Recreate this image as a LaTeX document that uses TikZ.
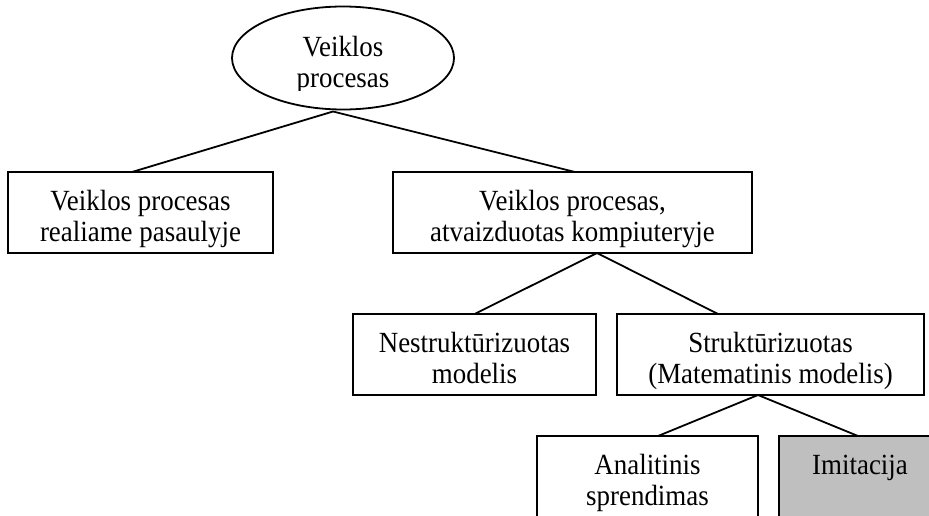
\documentclass[tikz,border=0pt]{standalone}
\usepackage{fontspec}
\setmainfont[FakeStretch=0.92]{Liberation Serif}
\usetikzlibrary{shapes.geometric}
% one drawing unit = one pixel of the 929 x 515 layout grid
\def\pxs{0.4444pt}
% two centred lines, set a little below the middle of their frame
\newcommand\twolines[2]{\raisebox{-3.2pt}[\height][\depth]{%
  \begin{tabular}{@{}c@{}}#1\\#2\end{tabular}}}
\begin{document}
\begin{tikzpicture}[x=0.4444pt, y=-0.4444pt, line width=0.8pt,
  txt/.style={font=\fontsize{13pt}{13.8pt}\selectfont, align=center},
  box/.style={txt, draw, rectangle, inner sep=0pt, outer sep=0pt},
  boxsize/.style 2 args={minimum width=#1*\pxs, minimum height=#2*\pxs},
  grayfill/.style={fill=gray!50!white}]
\useasboundingbox (0,0) rectangle (929,515);
\clip (0,0) rectangle (929,515);

% root ellipse; its label is clipped like a text frame
\node[draw, ellipse, inner sep=0pt, outer sep=0pt,
      minimum width=222*\pxs, minimum height=103*\pxs] (root) at (343,58) {};
\begin{scope}
  \clip (232,0) rectangle (454,90);
  \node[txt, inner sep=0pt] (rootlabel) at (343,59) {\twolines{Veiklos}{procesas}};
\end{scope}

% second level
\node[box, boxsize={265}{81}] (real) at (140.5,212.5)
  {\twolines{Veiklos procesas}{realiame pasaulyje}};
\node[box, boxsize={359}{81}] (comp) at (572.5,212.5)
  {\twolines{Veiklos procesas,}{atvaizduotas kompiuteryje}};

% third level
\node[box, boxsize={243}{81}] (nestr) at (474.5,354.5)
  {\twolines{Nestruktūrizuotas}{modelis}};
\node[box, boxsize={307}{81}] (strukt) at (770.5,354.5)
  {\twolines{Struktūrizuotas}{(Matematinis modelis)}};

% fourth level
\node[box, boxsize={221}{81}] (anal) at (647.5,476.5)
  {\twolines{Analitinis}{sprendimas}};
\node[box, grayfill, boxsize={162}{81}] (imit) at (860,476.5)
  {\twolines{Imitacija}{\strut}};

% connectors
\draw ([xshift=-10*\pxs, yshift=-2*\pxs]root.south) -- ([xshift=-8.5*\pxs]real.north);
\draw ([xshift=-10*\pxs, yshift=-2*\pxs]root.south) -- ([xshift=2.5*\pxs]comp.north);
\draw ([xshift=24.5*\pxs]comp.south) -- (nestr.north);
\draw ([xshift=24.5*\pxs]comp.south) -- ([xshift=-52.5*\pxs]strukt.north);
\draw ([xshift=-12.5*\pxs]strukt.south) -- ([xshift=10.5*\pxs]anal.north);
\draw ([xshift=-12.5*\pxs]strukt.south) -- ([xshift=-2*\pxs]imit.north);
\end{tikzpicture}
\end{document}
